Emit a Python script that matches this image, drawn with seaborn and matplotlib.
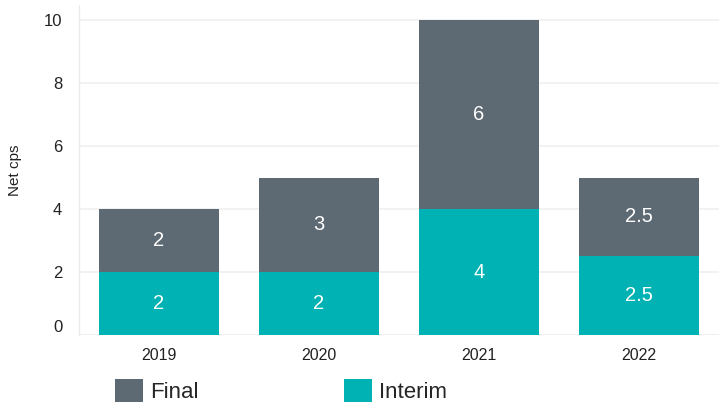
import matplotlib
matplotlib.use("Agg")
import matplotlib.pyplot as plt
import seaborn as sns
import pandas as pd
from matplotlib.patches import Patch

years = ["2019", "2020", "2021", "2022"]
interim = [2, 2, 4, 2.5]
final = [2, 3, 6, 2.5]
y_ticks = [0, 2, 4, 6, 8, 10]

c_final = "#5D6A74"
c_interim = "#00B2B4"

sns.set_style("white")
plt.rcParams["font.family"] = ["Liberation Sans", "DejaVu Sans"]

df = pd.DataFrame({"year": years, "interim": interim, "final": final})
df["total"] = df["interim"] + df["final"]

fig = plt.figure(figsize=(7.26, 4.07), dpi=100)
W, H = 726, 407
ax = fig.add_axes([79 / W, 1 - 335 / H, (719 - 79) / W, (335 - 5) / H])

sns.barplot(data=df, x="year", y="total", color=c_final, saturation=1,
            width=0.755, ax=ax, zorder=2, edgecolor="none", linewidth=0)
sns.barplot(data=df, x="year", y="interim", color=c_interim, saturation=1,
            width=0.755, ax=ax, zorder=3, edgecolor="none", linewidth=0)

for i, (iv, fv) in enumerate(zip(interim, final)):
    ax.text(i, iv / 2, f"{iv:g}", ha="center", va="center", color="white",
            fontsize=14.5, zorder=4)
    ax.text(i, iv + fv / 2, f"{fv:g}", ha="center", va="center", color="white",
            fontsize=14.5, zorder=4)

ax.set_xlim(-0.5, 3.5)
ax.set_ylim(0, 10.48)
ax.set_yticks(y_ticks)
ax.set_yticklabels([str(t) for t in y_ticks])
ax.yaxis.grid(True, color="#F0F0F0", linewidth=1.2, zorder=0)
ax.axhline(0, color="#E6E6E6", linewidth=1, linestyle=(0, (3, 2)), zorder=1)
ax.set_axisbelow(True)

for s in ["top", "right", "bottom"]:
    ax.spines[s].set_visible(False)
ax.spines["left"].set_color("#EBEBEB")
ax.spines["left"].set_linewidth(1)

ax.set_xticks([-0.5, 0.5, 1.5, 2.5, 3.5], minor=True)
ax.tick_params(axis="x", which="minor", length=7.5, color="#EBEBEB", width=1)
ax.tick_params(axis="x", which="major", length=0, labelsize=11.5, pad=9,
               labelcolor="#222222")
ax.tick_params(axis="y", length=0, labelsize=12, pad=12, labelcolor="#222222")
for lbl in ax.get_yticklabels():
    if lbl.get_text() == "0":
        lbl.set_verticalalignment("bottom")

ax.set_xlabel("")
ax.set_ylabel("Net cps", fontsize=11, color="#222222", labelpad=16)

handles = [Patch(facecolor=c_final, edgecolor="none", label="Final"),
           Patch(facecolor=c_interim, edgecolor="none", label="Interim")]
fig.legend(handles=handles, loc="center left",
           bbox_to_anchor=(115 / W, 1 - 391 / H), ncol=2, frameon=False,
           fontsize=16, handlelength=1.27, handleheight=1.22,
           handletextpad=0.33, columnspacing=6.5, borderpad=0,
           borderaxespad=0)

fig.savefig("out.png", dpi=100)
